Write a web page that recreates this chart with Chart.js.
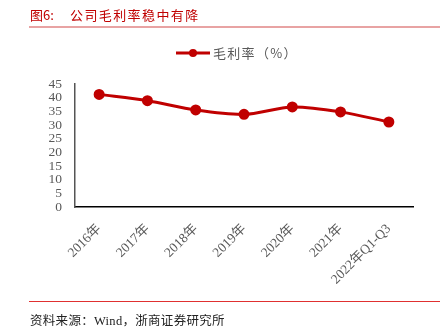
<!DOCTYPE html>
<html>
<head>
<meta charset="utf-8">
<script src="https://cdn.jsdelivr.net/npm/chart.js@4"></script>
<style>
  html, body { margin: 0; padding: 0; background: #fff; }
  #wrap { position: relative; width: 440px; height: 334px; overflow: hidden; }
  #chart { position: absolute; left: 0; top: 0; }
  .title { position: absolute; top: 5px; font: 13px "Noto Sans CJK SC", sans-serif; color: #C00000; white-space: pre; }
  .title.num { left: 30px; }
  .title.text { left: 70px; letter-spacing: 1.4px; }
  .rule-top { position: absolute; left: 29px; right: 0; top: 26px; height: 2px; background: #E8A3A3; }
  .rule-bottom { position: absolute; left: 29px; right: 0; top: 301px; height: 1px; background: #E03030; }
  .source { position: absolute; left: 30px; top: 310px; font: 12.5px "Liberation Serif", "Noto Sans CJK SC", serif; letter-spacing: 0.3px; color: #222; white-space: pre; }
</style>
</head>
<body>
<div id="wrap">
  <canvas id="chart" width="440" height="334"></canvas>
  <div class="title num">图6:</div>
  <div class="title text">公司毛利率稳中有降</div>
  <div class="rule-top"></div>
  <div class="rule-bottom"></div>
  <div class="source">资料来源：Wind，浙商证券研究所</div>
</div>
<script>
const years = ['2016年', '2017年', '2018年', '2019年', '2020年', '2021年', '2022年Q1-Q3'];
const grossMargin = [41.2, 38.9, 35.5, 33.9, 36.6, 34.8, 31.1];
const seriesName = '毛利率（%）';
const red = '#C00000';
const grey = '#595959';

// legend drawn as a short line with a dot, like the office-style chart key
const lineLegend = {
  id: 'lineLegend',
  afterDraw(chart) {
    const ctx = chart.ctx;
    const ds = chart.data.datasets[0];
    const y = 53;
    ctx.save();
    ctx.strokeStyle = ds.borderColor;
    ctx.lineWidth = 3;
    ctx.beginPath();
    ctx.moveTo(176, y);
    ctx.lineTo(210, y);
    ctx.stroke();
    ctx.fillStyle = ds.borderColor;
    ctx.beginPath();
    ctx.arc(193, y, 4, 0, Math.PI * 2);
    ctx.fill();
    ctx.fillStyle = grey;
    ctx.font = '13px "Noto Sans CJK SC", sans-serif';
    ctx.letterSpacing = '1.3px';
    ctx.textBaseline = 'middle';
    ctx.fillText(ds.label, 213, y);
    ctx.restore();
  }
};

new Chart(document.getElementById('chart'), {
  type: 'line',
  data: {
    labels: years,
    datasets: [{
      label: seriesName,
      data: grossMargin,
      borderColor: red,
      backgroundColor: red,
      borderWidth: 3,
      pointRadius: 4,
      pointHoverRadius: 4,
      tension: 0.3
    }]
  },
  options: {
    responsive: false,
    animation: false,
    layout: { padding: { left: 0, right: 27, top: 84, bottom: 0 } },
    plugins: {
      legend: { display: false },
      tooltip: { enabled: false }
    },
    scales: {
      x: {
        offset: true,
        grid: { display: false, drawTicks: false },
        border: { color: '#000', width: 1.5 },
        ticks: {
          color: grey,
          font: { family: '"Liberation Serif", "Noto Sans CJK SC", serif', size: 13.5 },
          maxRotation: 45,
          minRotation: 45,
          autoSkip: false,
          padding: 14
        },
        afterFit(scale) { scale.height = 127; }
      },
      y: {
        min: 0,
        max: 45,
        grid: { display: false, drawTicks: false },
        border: { color: '#555', width: 1.5 },
        ticks: {
          stepSize: 5,
          autoSkip: false,
          color: grey,
          font: { family: '"Liberation Serif", serif', size: 13.5 },
          padding: 13
        },
        afterFit(scale) { scale.width = 75; }
      }
    }
  },
  plugins: [lineLegend]
});
</script>
</body>
</html>
